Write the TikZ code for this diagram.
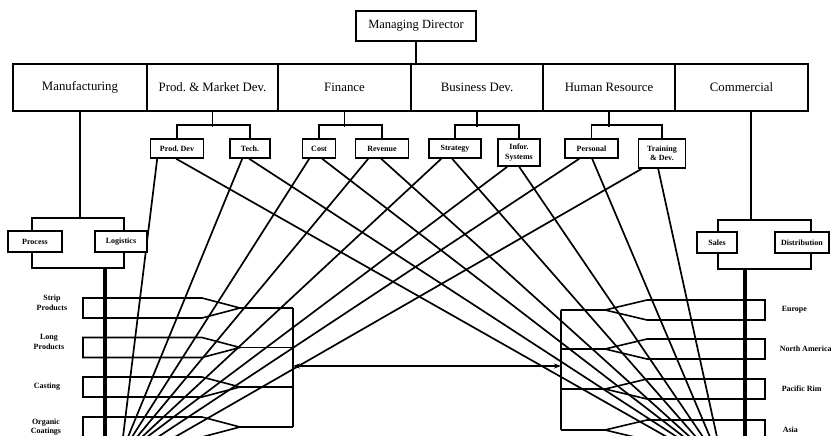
\documentclass[tikz,border=0pt]{standalone}
\usepackage{fontspec}
\setmainfont{Liberation Serif}
\usetikzlibrary{calc,arrows.meta}
\begin{document}
\begin{tikzpicture}[x=1pt,y=-1pt,line width=1.6pt,
  topbox/.style={draw,minimum height=47pt,inner sep=0pt,font=\fontsize{12.8}{14}\selectfont},
  subbox/.style={draw,fill=white,inner sep=0pt,align=center,font=\fontsize{8}{9.5}\selectfont\bfseries},
  lbl/.style={inner sep=0pt,align=center,font=\fontsize{8}{9.5}\selectfont\bfseries},
  fanline/.style={line width=1.7pt},
  busline/.style={line width=3.2pt},
  lane/.style={line width=1.6pt,line join=miter}]
\path[fill=white] (0,0) rectangle (831,436);
\useasboundingbox (0,0) rectangle (831,436);
\clip (0,0) rectangle (831,436);

% Managing director and departments
\node[draw,minimum width=120pt,minimum height=30pt,inner sep=0pt,font=\fontsize{12.5}{14}\selectfont] (md) at (416,26) {Managing Director};
\node[topbox,minimum width=134pt] (mfg) at (80,87.5) {Manufacturing};
\node[topbox,minimum width=131pt] (pmd) at (212.5,87.5) {Prod.\ \& Market Dev.};
\node[topbox,minimum width=133pt] (fin) at (344.5,87.5) {Finance};
\node[topbox,minimum width=132pt] (bd) at (477,87.5) {Business Dev.};
\node[topbox,minimum width=132pt] (hr) at (609,87.5) {Human Resource};
\node[topbox,minimum width=133pt] (com) at (741.5,87.5) {Commercial};
\draw (md.south) -- (md.south |- bd.north);

% sub units
\node[subbox,minimum width=53pt,minimum height=19pt] (pd) at (177,148.5) {Prod.\ Dev};
\node[subbox,minimum width=40pt,minimum height=19pt] (tech) at (250,148.5) {Tech.};
\node[subbox,minimum width=33pt,minimum height=19pt] (cost) at (319,148.5) {Cost};
\node[subbox,minimum width=53pt,minimum height=19pt] (rev) at (382,148.5) {Revenue};
\node[subbox,minimum width=52pt,minimum height=19pt] (strat) at (455,148.5) {Strategy};
\node[subbox,minimum width=42pt,minimum height=27pt] (info) at (519,152.5) {Infor.\\Systems};
\node[subbox,minimum width=53pt,minimum height=19pt] (pers) at (591.5,148.5) {Personal};
\node[subbox,minimum width=47pt,minimum height=29pt] (train) at (662,153.5) {Training\\\& Dev.};

\foreach \d/\a/\b in {pmd/pd/tech,fin/cost/rev,bd/strat/info,hr/pers/train}{
  \draw (\d.south) -- ++(0,15);
  \draw (\a.north) -- ++(0,-13) -| (\b.north);
}

% fan lines
\foreach \b/\l/\r/\tl/\tr in {pd/7.5/26.5/123/667,tech/13/20/128/677,cost/7.5/20.5/132/684,rev/13.5/26.5/137/690,strat/13/24/142/696,info/10/22/147/703,pers/15/28/158/710,train/4/20.5/175/717}{
  \coordinate (le\b) at (\tl,437);
  \coordinate (re\b) at (\tr,437);
  \draw[fanline] ($(\b.south west)+(\l,0)$) -- (le\b);
  \draw[fanline] ($(\b.south west)+(\r,0)$) -- (re\b);
}

% manufacturing bracket
\node[draw,minimum width=92pt,minimum height=50pt,inner sep=0pt] (mbr) at (78,243) {};
\draw (mfg.south) -- (mfg.south |- mbr.north);
\node[subbox,minimum width=54pt,minimum height=21pt] (proc) at (35,241.5) {Process};
\node[subbox,minimum width=52pt,minimum height=21pt] (logi) at (121,241.5) {Logistics};

% commercial bracket
\node[draw,minimum width=93pt,minimum height=49pt,inner sep=0pt] (cbr) at (764.5,244.5) {};
\draw ([xshift=9.5pt]com.south) -- ([xshift=9.5pt]com.south |- cbr.north);
\node[subbox,minimum width=40pt,minimum height=21pt] (sales) at (717,242.5) {Sales};
\node[subbox,minimum width=54pt,minimum height=21pt] (dist) at (802,242.5) {Distribution};

% left lanes
\foreach \m in {308,347.5,387,427}{
  \draw[lane] (202,\m-10) -- (83,\m-10) -- (83,\m+10) -- (202,\m+10) -- (240,\m) -- cycle;
  \draw (240,\m) -- (293,\m);
}
\coordinate (lvtop) at (293,308);
\coordinate (lvbot) at (293,427);
\draw (lvtop) -- (lvbot);

% right lanes
\foreach \m in {310,349,389,430}{
  \draw[lane] (647,\m-10) -- (765,\m-10) -- (765,\m+10) -- (647,\m+10) -- (605,\m) -- cycle;
  \draw (605,\m) -- (561,\m);
}
\coordinate (rvtop) at (561,310);
\coordinate (rvbot) at (561,430);
\draw (rvtop) -- (rvbot);

% buses
\coordinate (lbusend) at (105,440);
\draw[busline] (mbr.south -| lbusend) -- (lbusend);
\coordinate (rbusend) at (745,440);
\draw[busline] (cbr.south -| rbusend) -- (rbusend);

% double arrow
\coordinate (la) at (293,366);
\coordinate (ra) at (561,366);
\draw[line width=1.2pt,{Stealth[length=7pt,width=5pt]}-{Stealth[length=7pt,width=5pt]}] (la) -- (ra);

% labels
\node[lbl] (strip) at (52,303) {Strip\\Products};
\node[lbl] (long) at (49,342) {Long\\Products};
\node[lbl] (cast) at (47,387) {Casting};
\node[lbl] (org) at (46,427) {Organic\\Coatings};
\node[lbl,anchor=west] (eur) at (781,310) {Europe};
\node[lbl,anchor=west] (nam) at (779,349) {North America};
\node[lbl,anchor=west] (pac) at (781,389) {Pacific Rim};
\node[lbl,anchor=west] (asia) at (782,430) {Asia};
\end{tikzpicture}
\end{document}
